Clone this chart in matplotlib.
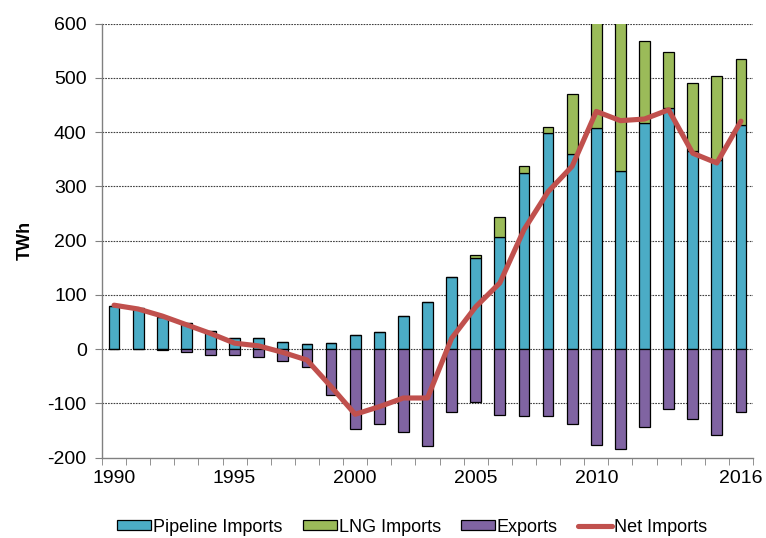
import matplotlib
matplotlib.use("Agg")
import matplotlib.pyplot as plt
import numpy as np

years = list(range(1990, 2017))
pipeline = [80, 75, 60, 49, 34, 20, 20, 14, 10, 12, 26, 31, 61, 87,
            133, 168, 206, 324, 399, 359, 407, 329, 417, 445, 365, 349, 413]
lng = [0, 0, 0, 0, 0, 0, 0, 0, 0, 0, 0, 0, 0, 0,
       0, 5, 37, 14, 10, 112, 207, 276, 151, 103, 125, 154, 122]
exports = [0, 0, -2, -6, -10, -11, -15, -21, -32, -85, -147, -138, -152, -178,
           -115, -97, -121, -124, -123, -138, -176, -184, -144, -111, -128, -159, -116]
net = [81, 74, 61, 45, 29, 11, 6, -6, -20, -69, -120, -106, -90, -90,
       20, 78, 122, 220, 290, 337, 438, 421, 424, 441, 361, 343, 420]
tick_years = [1990, 1995, 2000, 2005, 2010, 2016]

plt.rcParams['font.family'] = ['Liberation Sans', 'DejaVu Sans']
plt.rcParams['axes.unicode_minus'] = False

fig = plt.figure(figsize=(7.66, 5.38), dpi=100)
ax = fig.add_axes([102/766, 1-457.7/538, 651/766, (457.7-23.5)/538])

x = np.arange(len(years))
w = 0.45
c_pipe, c_lng, c_exp, c_net = '#4BACC6', '#9BBB59', '#8064A2', '#C0504D'
b1 = ax.bar(x, pipeline, w, color=c_pipe, edgecolor='black', linewidth=0.9, zorder=2)
b2 = ax.bar(x, lng, w, bottom=pipeline, color=c_lng, edgecolor='black', linewidth=0.9, zorder=2)
b3 = ax.bar(x, exports, w, color=c_exp, edgecolor='black', linewidth=0.9, zorder=2)
ln, = ax.plot(x, net, color=c_net, linewidth=3.7, zorder=3, solid_capstyle='round')

ax.set_xlim(-0.5, len(years) - 0.5)
ax.set_ylim(-200, 600)
ax.set_yticks(np.arange(-200, 601, 100))
ax.set_xticks([years.index(y) for y in tick_years])
ax.set_xticklabels([str(y) for y in tick_years])
ax.set_xticks(np.arange(-0.5, len(years), 1), minor=True)
ax.tick_params(axis='x', which='major', length=0, labelsize=14, pad=9)
ax.tick_params(axis='x', which='minor', length=5, color='#808080', direction='out')
ax.tick_params(axis='y', length=5, color='#808080', labelsize=14, pad=6)

for v in range(-100, 601, 100):
    ax.axhline(v, color='#404040', linewidth=0.8, linestyle=(0, (1.5, 1)), zorder=1)

for s in ['top', 'right']:
    ax.spines[s].set_visible(False)
for s in ['left', 'bottom']:
    ax.spines[s].set_color('#808080')
    ax.spines[s].set_linewidth(1.0)

ax.set_ylabel('TWh', fontsize=13, fontweight='bold', labelpad=10)

fig.legend([b1, b2, b3, ln], ['Pipeline Imports', 'LNG Imports', 'Exports', 'Net Imports'],
           loc='center', bbox_to_anchor=(412/766, 1-527/538), ncol=4, frameon=False, fontsize=13,
           handlelength=1.9, handleheight=0.5, handletextpad=0.1, columnspacing=1.1)

fig.savefig('out.png', dpi=100)
